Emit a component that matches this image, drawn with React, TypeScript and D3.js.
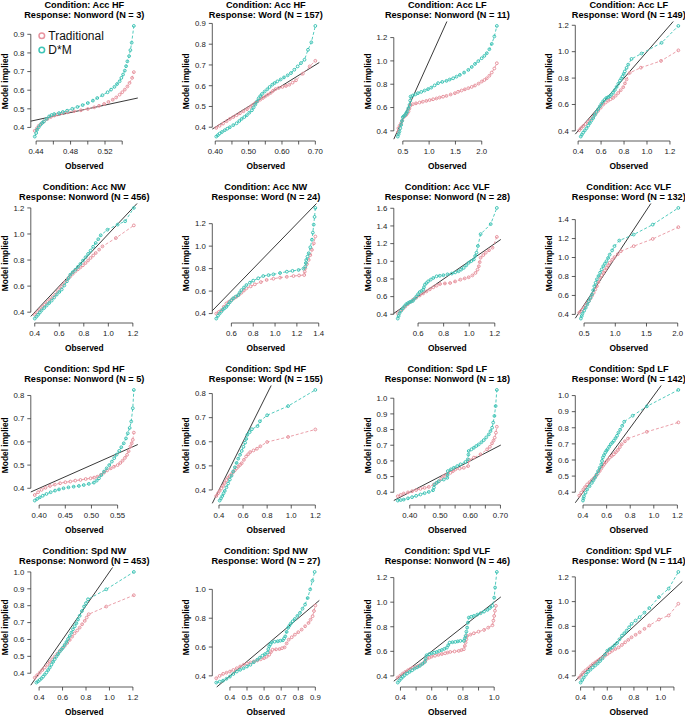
import React from "react";
import * as d3 from "d3";

type Pt = [number, number];

const conditions = ["Acc HF", "Acc HF", "Acc LF", "Acc LF", "Acc NW", "Acc NW", "Acc VLF", "Acc VLF", "Spd HF", "Spd HF", "Spd LF", "Spd LF", "Spd NW", "Spd NW", "Spd VLF", "Spd VLF"];
const responses = ["Nonword", "Word", "Nonword", "Word", "Nonword", "Word", "Nonword", "Word", "Nonword", "Word", "Nonword", "Word", "Nonword", "Word", "Nonword", "Word"];
const nCounts = [3, 157, 11, 149, 456, 24, 28, 132, 5, 155, 18, 142, 453, 27, 46, 114];
const seriesNames = ["Traditional", "D*M"];

// ---- Row 1 ----
const tradAccHfNonword: Pt[] = [[0.4384,0.382],[0.441,0.396],[0.443,0.409],[0.446,0.421],[0.449,0.432],[0.453,0.445],[0.457,0.456],[0.461,0.464],[0.4646,0.47],[0.470,0.476],[0.476,0.481],[0.484,0.487],[0.492,0.492],[0.500,0.499],[0.5075,0.508],[0.513,0.516],[0.519,0.526],[0.524,0.537],[0.529,0.549],[0.533,0.561],[0.537,0.576],[0.540,0.589],[0.543,0.603],[0.546,0.62],[0.5485,0.639],[0.5515,0.666],[0.5535,0.697]];
const dmAccHfNonword: Pt[] = [[0.4384,0.351],[0.440,0.370],[0.441,0.387],[0.443,0.401],[0.445,0.414],[0.447,0.424],[0.449,0.432],[0.452,0.446],[0.455,0.459],[0.458,0.467],[0.461,0.472],[0.4665,0.477],[0.471,0.483],[0.476,0.49],[0.482,0.50],[0.488,0.51],[0.494,0.52],[0.5,0.531],[0.506,0.544],[0.511,0.558],[0.517,0.573],[0.523,0.589],[0.527,0.603],[0.531,0.618],[0.534,0.633],[0.537,0.648],[0.539,0.666],[0.541,0.684],[0.543,0.705],[0.5445,0.729],[0.546,0.755],[0.548,0.783],[0.5495,0.815],[0.551,0.855],[0.5535,0.945]];

const tradAccHfWord: Pt[] = [[0.403,0.397],[0.413,0.407],[0.4234,0.4176],[0.434,0.429],[0.4437,0.44],[0.454,0.449],[0.464,0.458],[0.474,0.467],[0.4844,0.477],[0.495,0.487],[0.505,0.498],[0.512,0.507],[0.52,0.517],[0.527,0.525],[0.535,0.533],[0.543,0.541],[0.55,0.549],[0.558,0.557],[0.566,0.565],[0.573,0.575],[0.581,0.584],[0.59,0.589],[0.6014,0.594],[0.612,0.599],[0.622,0.605],[0.632,0.615],[0.642,0.626],[0.6625,0.658],[0.683,0.693],[0.70,0.72]];
const dmAccHfWord: Pt[] = [[0.403,0.355],[0.408,0.362],[0.413,0.3695],[0.42,0.377],[0.4285,0.3856],[0.436,0.393],[0.4437,0.4],[0.454,0.41],[0.464,0.419],[0.472,0.43],[0.479,0.44],[0.487,0.449],[0.4946,0.458],[0.502,0.47],[0.51,0.482],[0.515,0.495],[0.52,0.509],[0.525,0.524],[0.53,0.539],[0.535,0.55],[0.54,0.56],[0.548,0.572],[0.556,0.583],[0.563,0.594],[0.571,0.605],[0.578,0.613],[0.586,0.621],[0.596,0.63],[0.606,0.64],[0.617,0.65],[0.627,0.661],[0.637,0.677],[0.647,0.693],[0.657,0.709],[0.6675,0.725],[0.678,0.773],[0.688,0.809],[0.70,0.888]];

const tradAccLfNonword: Pt[] = [[0.41,0.39],[0.417,0.423],[0.44,0.445],[0.468,0.466],[0.49,0.49],[0.513,0.517],[0.54,0.528],[0.564,0.537],[0.585,0.55],[0.608,0.566],[0.625,0.59],[0.64,0.614],[0.69,0.629],[0.75,0.636],[0.819,0.643],[0.88,0.65],[0.947,0.657],[1.01,0.664],[1.075,0.671],[1.14,0.678],[1.2,0.686],[1.265,0.693],[1.33,0.7],[1.41,0.712],[1.49,0.723],[1.55,0.735],[1.617,0.746],[1.68,0.756],[1.745,0.766],[1.81,0.777],[1.872,0.789],[1.94,0.805],[2.0,0.823],[2.05,0.836],[2.096,0.851],[2.145,0.873],[2.19,0.9],[2.24,0.935],[2.287,0.98]];
const dmAccLfNonword: Pt[] = [[0.404,0.351],[0.42,0.372],[0.436,0.394],[0.452,0.422],[0.468,0.451],[0.484,0.484],[0.5,0.517],[0.52,0.527],[0.545,0.537],[0.565,0.552],[0.583,0.566],[0.605,0.594],[0.628,0.623],[0.64,0.66],[0.647,0.694],[0.69,0.703],[0.74,0.713],[0.787,0.723],[0.85,0.734],[0.915,0.746],[0.98,0.758],[1.04,0.771],[1.105,0.79],[1.17,0.809],[1.25,0.82],[1.33,0.829],[1.39,0.84],[1.457,0.851],[1.52,0.865],[1.585,0.88],[1.665,0.9],[1.745,0.923],[1.81,0.948],[1.872,0.974],[1.935,0.998],[2.0,1.023],[2.05,1.043],[2.096,1.066],[2.145,1.1],[2.19,1.146],[2.24,1.21],[2.287,1.3]];

const tradAccLfWord: Pt[] = [[0.41,0.405],[0.425,0.42],[0.444,0.436],[0.465,0.452],[0.487,0.469],[0.51,0.488],[0.531,0.508],[0.553,0.53],[0.575,0.553],[0.597,0.576],[0.618,0.599],[0.64,0.615],[0.662,0.629],[0.683,0.64],[0.705,0.65],[0.727,0.667],[0.749,0.687],[0.771,0.708],[0.793,0.731],[0.808,0.76],[0.822,0.79],[0.85,0.84],[0.947,0.879],[1.122,0.93],[1.273,1.01]];
const dmAccLfWord: Pt[] = [[0.423,0.357],[0.433,0.372],[0.444,0.387],[0.458,0.403],[0.473,0.42],[0.488,0.44],[0.502,0.459],[0.516,0.478],[0.531,0.497],[0.545,0.52],[0.56,0.543],[0.575,0.565],[0.589,0.586],[0.603,0.605],[0.618,0.624],[0.633,0.638],[0.647,0.65],[0.662,0.656],[0.676,0.662],[0.69,0.675],[0.705,0.69],[0.72,0.71],[0.735,0.733],[0.75,0.757],[0.764,0.78],[0.776,0.797],[0.787,0.813],[0.797,0.832],[0.807,0.851],[0.822,0.877],[0.836,0.902],[0.865,0.945],[0.953,0.986],[1.127,1.067],[1.273,1.195]];

// ---- Row 2 ----
const tradAccNwNonword: Pt[] = [[0.4,0.381],[0.42,0.4],[0.441,0.42],[0.462,0.44],[0.483,0.459],[0.503,0.478],[0.524,0.497],[0.545,0.516],[0.566,0.535],[0.586,0.56],[0.607,0.586],[0.628,0.609],[0.648,0.632],[0.669,0.654],[0.69,0.675],[0.71,0.694],[0.731,0.713],[0.752,0.729],[0.772,0.744],[0.793,0.76],[0.814,0.777],[0.835,0.797],[0.855,0.816],[0.876,0.835],[0.897,0.854],[0.925,0.88],[0.952,0.905],[1.062,0.969],[1.208,1.066]];
const dmAccNwNonword: Pt[] = [[0.4,0.351],[0.414,0.366],[0.4276,0.381],[0.441,0.397],[0.455,0.413],[0.476,0.432],[0.4966,0.451],[0.517,0.47],[0.538,0.489],[0.558,0.512],[0.579,0.535],[0.6,0.555],[0.62,0.574],[0.641,0.605],[0.662,0.637],[0.676,0.662],[0.69,0.688],[0.71,0.707],[0.731,0.726],[0.752,0.748],[0.772,0.77],[0.793,0.796],[0.814,0.821],[0.835,0.847],[0.855,0.872],[0.876,0.902],[0.897,0.931],[0.918,0.96],[0.938,0.99],[0.993,1.033],[1.076,1.072],[1.137,1.098],[1.208,1.2]];

const tradAccNwWord: Pt[] = [[0.4615,0.4],[0.485,0.415],[0.508,0.43],[0.53,0.46],[0.554,0.49],[0.577,0.505],[0.6,0.52],[0.623,0.535],[0.646,0.549],[0.669,0.567],[0.692,0.585],[0.715,0.605],[0.738,0.624],[0.777,0.642],[0.815,0.66],[0.87,0.68],[0.923,0.699],[0.985,0.71],[1.046,0.72],[1.108,0.727],[1.169,0.734],[1.22,0.739],[1.267,0.743],[1.272,0.773],[1.277,0.803],[1.292,0.84],[1.308,0.877],[1.323,0.92],[1.338,0.967],[1.355,1.025],[1.369,1.086]];
const dmAccNwWord: Pt[] = [[0.4615,0.3555],[0.477,0.38],[0.492,0.4],[0.508,0.418],[0.523,0.436],[0.538,0.448],[0.554,0.46],[0.569,0.48],[0.585,0.5],[0.6,0.518],[0.615,0.535],[0.638,0.55],[0.662,0.564],[0.677,0.587],[0.692,0.609],[0.715,0.632],[0.738,0.654],[0.77,0.675],[0.8,0.693],[0.846,0.714],[0.892,0.734],[0.94,0.742],[0.985,0.749],[1.046,0.761],[1.108,0.773],[1.16,0.78],[1.215,0.788],[1.26,0.8],[1.277,0.818],[1.282,0.85],[1.286,0.877],[1.297,0.907],[1.308,0.937],[1.323,0.99],[1.338,1.057],[1.346,1.12],[1.354,1.191],[1.362,1.26],[1.369,1.34]];

const tradAccVlfNonword: Pt[] = [[0.4414,0.411],[0.461,0.436],[0.481,0.461],[0.5,0.487],[0.52,0.514],[0.54,0.539],[0.56,0.564],[0.587,0.589],[0.613,0.613],[0.64,0.636],[0.666,0.659],[0.692,0.682],[0.719,0.705],[0.745,0.724],[0.772,0.743],[0.81,0.749],[0.851,0.754],[0.89,0.772],[0.931,0.792],[0.965,0.806],[0.996,0.819],[1.025,0.84],[1.049,0.868],[1.065,0.905],[1.075,0.944],[1.082,0.99],[1.089,1.04],[1.11,1.07],[1.129,1.097],[1.155,1.125],[1.182,1.154],[1.216,1.276]];
const dmAccVlfNonword: Pt[] = [[0.4414,0.3514],[0.448,0.38],[0.4546,0.411],[0.468,0.44],[0.481,0.469],[0.494,0.492],[0.5075,0.514],[0.521,0.526],[0.534,0.537],[0.547,0.545],[0.56,0.552],[0.573,0.577],[0.587,0.602],[0.6,0.627],[0.613,0.651],[0.627,0.664],[0.64,0.678],[0.646,0.705],[0.653,0.735],[0.666,0.754],[0.679,0.773],[0.699,0.792],[0.719,0.811],[0.745,0.83],[0.77,0.836],[0.798,0.842],[0.83,0.852],[0.864,0.861],[0.89,0.874],[0.917,0.887],[0.937,0.906],[0.957,0.925],[0.977,0.954],[0.996,0.983],[1.016,1.002],[1.036,1.021],[1.047,1.06],[1.057,1.097],[1.068,1.173],[1.089,1.307],[1.168,1.421],[1.216,1.604]];

const tradAccVlfWord: Pt[] = [[0.423,0.418],[0.45,0.435],[0.475,0.452],[0.5,0.47],[0.525,0.493],[0.551,0.517],[0.577,0.54],[0.603,0.569],[0.628,0.598],[0.654,0.628],[0.68,0.663],[0.705,0.698],[0.73,0.742],[0.756,0.786],[0.782,0.813],[0.808,0.839],[0.834,0.865],[0.859,0.891],[0.885,0.918],[0.91,0.944],[0.95,0.975],[0.987,1.004],[1.04,1.035],[1.09,1.067],[1.295,1.12],[1.6,1.196],[2.01,1.32]];
const dmAccVlfWord: Pt[] = [[0.449,0.356],[0.462,0.382],[0.474,0.407],[0.5,0.438],[0.526,0.47],[0.552,0.505],[0.577,0.54],[0.603,0.575],[0.628,0.611],[0.646,0.655],[0.664,0.698],[0.685,0.734],[0.705,0.77],[0.731,0.805],[0.756,0.84],[0.782,0.875],[0.808,0.909],[0.833,0.935],[0.859,0.961],[0.885,0.995],[0.91,1.03],[0.95,1.075],[0.987,1.12],[1.064,1.179],[1.295,1.242],[1.6,1.347],[2.01,1.523]];

// ---- Row 3 ----
const tradSpdHfNonword: Pt[] = [[0.3916,0.371],[0.398,0.383],[0.4045,0.393],[0.412,0.402],[0.4207,0.41],[0.43,0.416],[0.44,0.4216],[0.45,0.426],[0.4595,0.429],[0.469,0.433],[0.479,0.436],[0.489,0.44],[0.4983,0.443],[0.505,0.446],[0.5112,0.45],[0.518,0.458],[0.524,0.4676],[0.53,0.477],[0.537,0.486],[0.543,0.493],[0.55,0.5],[0.555,0.509],[0.5595,0.519],[0.564,0.531],[0.568,0.544],[0.571,0.56],[0.5746,0.58],[0.577,0.594],[0.579,0.609],[0.581,0.64]];
const dmSpdHfNonword: Pt[] = [[0.3916,0.347],[0.396,0.354],[0.4013,0.361],[0.407,0.368],[0.414,0.3755],[0.422,0.383],[0.4304,0.39],[0.438,0.395],[0.4466,0.4],[0.456,0.404],[0.466,0.407],[0.476,0.41],[0.4853,0.414],[0.495,0.419],[0.5047,0.4245],[0.51,0.433],[0.5144,0.443],[0.519,0.457],[0.524,0.472],[0.529,0.486],[0.534,0.5],[0.539,0.515],[0.5435,0.53],[0.548,0.545],[0.553,0.561],[0.557,0.577],[0.5617,0.594],[0.566,0.615],[0.5694,0.637],[0.573,0.66],[0.576,0.688],[0.579,0.745],[0.581,0.824]];

const tradSpdHfWord: Pt[] = [[0.3775,0.375],[0.392,0.386],[0.4056,0.396],[0.42,0.407],[0.434,0.417],[0.448,0.429],[0.462,0.441],[0.476,0.45],[0.49,0.458],[0.504,0.466],[0.518,0.474],[0.532,0.482],[0.546,0.49],[0.56,0.497],[0.575,0.504],[0.589,0.511],[0.607,0.525],[0.625,0.539],[0.642,0.548],[0.659,0.557],[0.687,0.564],[0.715,0.571],[0.743,0.581],[0.8,0.599],[0.974,0.62],[1.2,0.651]];
const dmSpdHfWord: Pt[] = [[0.4056,0.356],[0.417,0.365],[0.428,0.375],[0.438,0.386],[0.448,0.396],[0.462,0.411],[0.476,0.427],[0.49,0.443],[0.504,0.459],[0.518,0.477],[0.532,0.494],[0.546,0.512],[0.56,0.53],[0.575,0.546],[0.589,0.562],[0.603,0.579],[0.617,0.596],[0.627,0.612],[0.636,0.629],[0.655,0.64],[0.673,0.652],[0.72,0.665],[0.74,0.685],[0.8,0.71],[0.974,0.748],[1.2,0.815]];

const tradSpdLfNonword: Pt[] = [[0.3603,0.3744],[0.37,0.383],[0.38,0.392],[0.394,0.399],[0.4077,0.4064],[0.421,0.414],[0.4353,0.4214],[0.449,0.428],[0.463,0.434],[0.4794,0.449],[0.488,0.459],[0.496,0.47],[0.504,0.486],[0.5125,0.5025],[0.523,0.514],[0.5346,0.524],[0.543,0.535],[0.551,0.546],[0.565,0.551],[0.5787,0.556],[0.593,0.567],[0.5964,0.606],[0.612,0.621],[0.634,0.642],[0.656,0.674],[0.665,0.69],[0.672,0.712],[0.677,0.73],[0.681,0.748],[0.685,0.78],[0.688,0.818]];
const dmSpdLfNonword: Pt[] = [[0.3603,0.3468],[0.37,0.35],[0.38,0.353],[0.394,0.361],[0.4077,0.3685],[0.421,0.377],[0.4353,0.3856],[0.449,0.394],[0.463,0.402],[0.477,0.413],[0.48,0.43],[0.482,0.449],[0.489,0.46],[0.496,0.47],[0.5125,0.481],[0.524,0.492],[0.525,0.51],[0.526,0.535],[0.536,0.546],[0.5456,0.556],[0.557,0.567],[0.5677,0.578],[0.584,0.593],[0.592,0.61],[0.594,0.64],[0.595,0.663],[0.604,0.674],[0.612,0.684],[0.62,0.695],[0.628,0.705],[0.637,0.719],[0.645,0.733],[0.653,0.75],[0.6614,0.769],[0.667,0.79],[0.6724,0.812],[0.676,0.845],[0.68,0.887],[0.684,0.95],[0.688,1.053]];

const tradSpdLfWord: Pt[] = [[0.368,0.379],[0.385,0.398],[0.4027,0.4167],[0.418,0.432],[0.4347,0.448],[0.455,0.462],[0.4747,0.475],[0.492,0.487],[0.509,0.5],[0.525,0.515],[0.541,0.531],[0.555,0.547],[0.568,0.5625],[0.581,0.575],[0.595,0.5875],[0.611,0.601],[0.627,0.615],[0.644,0.625],[0.661,0.635],[0.679,0.649],[0.696,0.6625],[0.712,0.68],[0.728,0.698],[0.755,0.716],[0.781,0.733],[0.941,0.775],[1.208,0.8333]];
const dmSpdLfWord: Pt[] = [[0.3995,0.348],[0.404,0.362],[0.408,0.375],[0.421,0.396],[0.4347,0.4167],[0.455,0.437],[0.4747,0.458],[0.488,0.474],[0.5013,0.49],[0.515,0.51],[0.528,0.531],[0.541,0.552],[0.5547,0.573],[0.561,0.594],[0.568,0.615],[0.578,0.63],[0.589,0.646],[0.598,0.657],[0.608,0.667],[0.621,0.682],[0.635,0.698],[0.648,0.708],[0.661,0.719],[0.675,0.735],[0.688,0.75],[0.7,0.77],[0.715,0.788],[0.732,0.812],[0.749,0.8375],[0.821,0.875],[0.941,0.933],[1.208,1.035]];

// ---- Row 4 ----
const tradSpdNwNonword: Pt[] = [[0.363,0.374],[0.384,0.389],[0.4057,0.4036],[0.427,0.419],[0.448,0.4336],[0.47,0.45],[0.491,0.467],[0.512,0.483],[0.533,0.4987],[0.555,0.515],[0.576,0.532],[0.597,0.547],[0.618,0.5617],[0.64,0.579],[0.661,0.597],[0.682,0.617],[0.703,0.637],[0.725,0.653],[0.746,0.67],[0.767,0.69],[0.789,0.71],[0.806,0.73],[0.823,0.7494],[0.973,0.795],[1.208,0.862]];
const dmSpdNwNonword: Pt[] = [[0.377,0.3447],[0.391,0.352],[0.4057,0.3605],[0.42,0.37],[0.434,0.38],[0.448,0.392],[0.4624,0.404],[0.477,0.419],[0.491,0.4336],[0.505,0.45],[0.519,0.467],[0.533,0.483],[0.5475,0.4987],[0.562,0.513],[0.576,0.528],[0.59,0.54],[0.604,0.552],[0.618,0.568],[0.633,0.585],[0.647,0.603],[0.661,0.621],[0.675,0.64],[0.689,0.66],[0.704,0.678],[0.718,0.696],[0.732,0.718],[0.746,0.74],[0.765,0.768],[0.783,0.795],[0.8,0.815],[0.817,0.838],[0.973,0.897],[1.208,1.0]];

const tradSpdNwWord: Pt[] = [[0.32,0.3837],[0.34,0.4],[0.36,0.414],[0.38,0.422],[0.4,0.43],[0.42,0.441],[0.44,0.453],[0.46,0.465],[0.48,0.477],[0.5,0.485],[0.52,0.493],[0.54,0.5],[0.56,0.507],[0.58,0.515],[0.6,0.5233],[0.615,0.533],[0.63,0.5465],[0.64,0.565],[0.65,0.5814],[0.67,0.584],[0.69,0.586],[0.705,0.592],[0.72,0.598],[0.732,0.625],[0.744,0.651],[0.762,0.668],[0.78,0.686],[0.8,0.703],[0.82,0.721],[0.84,0.744],[0.86,0.767],[0.872,0.79],[0.884,0.814],[0.892,0.85],[0.9,0.888]];
const dmSpdNwWord: Pt[] = [[0.32,0.3535],[0.34,0.36],[0.36,0.367],[0.38,0.38],[0.4,0.395],[0.42,0.413],[0.44,0.43],[0.46,0.442],[0.48,0.453],[0.5,0.465],[0.52,0.477],[0.54,0.495],[0.56,0.512],[0.575,0.526],[0.59,0.54],[0.605,0.551],[0.62,0.5628],[0.625,0.585],[0.63,0.605],[0.637,0.619],[0.644,0.633],[0.662,0.637],[0.68,0.64],[0.695,0.644],[0.71,0.647],[0.717,0.66],[0.724,0.674],[0.732,0.705],[0.74,0.733],[0.748,0.748],[0.756,0.763],[0.768,0.779],[0.78,0.795],[0.795,0.816],[0.81,0.837],[0.825,0.866],[0.84,0.895],[0.855,0.94],[0.87,1.0],[0.883,1.06],[0.896,1.121]];

const tradSpdVlfNonword: Pt[] = [[0.3827,0.3864],[0.399,0.403],[0.415,0.419],[0.431,0.433],[0.448,0.446],[0.464,0.457],[0.48,0.4678],[0.497,0.474],[0.513,0.481],[0.529,0.492],[0.545,0.503],[0.558,0.522],[0.571,0.5407],[0.585,0.549],[0.6,0.557],[0.621,0.564],[0.643,0.571],[0.665,0.578],[0.686,0.584],[0.702,0.59],[0.719,0.595],[0.746,0.599],[0.773,0.6034],[0.79,0.61],[0.806,0.617],[0.812,0.644],[0.817,0.671],[0.822,0.698],[0.827,0.7254],[0.848,0.736],[0.87,0.747],[0.9,0.76],[0.935,0.774],[0.962,0.793],[0.989,0.812],[0.995,0.85],[1.0,0.888],[1.005,0.93],[1.011,0.97]];
const dmSpdVlfNonword: Pt[] = [[0.3827,0.3458],[0.393,0.362],[0.404,0.378],[0.415,0.392],[0.426,0.405],[0.442,0.419],[0.4585,0.4325],[0.475,0.446],[0.491,0.46],[0.507,0.47],[0.5235,0.481],[0.54,0.497],[0.556,0.5136],[0.561,0.54],[0.567,0.5678],[0.583,0.576],[0.6,0.584],[0.616,0.589],[0.632,0.5946],[0.648,0.603],[0.665,0.611],[0.681,0.62],[0.697,0.63],[0.706,0.65],[0.715,0.671],[0.733,0.674],[0.751,0.6766],[0.767,0.681],[0.784,0.685],[0.806,0.685],[0.812,0.705],[0.817,0.7254],[0.822,0.76],[0.827,0.7932],[0.832,0.834],[0.8375,0.8746],[0.853,0.881],[0.87,0.888],[0.892,0.899],[0.913,0.91],[0.935,0.923],[0.957,0.937],[0.973,0.953],[0.989,0.97],[1.0,1.037],[1.006,1.119],[1.017,1.246]];

const tradSpdVlfWord: Pt[] = [[0.39,0.3864],[0.405,0.407],[0.4194,0.427],[0.437,0.444],[0.4556,0.46],[0.474,0.478],[0.4919,0.495],[0.51,0.509],[0.5282,0.522],[0.546,0.536],[0.5645,0.549],[0.583,0.563],[0.6008,0.576],[0.619,0.59],[0.6371,0.6034],[0.661,0.617],[0.6854,0.63],[0.71,0.65],[0.7338,0.671],[0.758,0.691],[0.7822,0.7118],[0.8125,0.732],[0.8427,0.7525],[0.879,0.78],[0.9153,0.807],[0.9878,0.8556],[1.0604,0.888],[1.133,0.983]];
const dmSpdVlfWord: Pt[] = [[0.4,0.3458],[0.412,0.366],[0.4242,0.3864],[0.44,0.41],[0.4556,0.4325],[0.474,0.45],[0.4919,0.468],[0.51,0.484],[0.5282,0.5],[0.546,0.52],[0.5645,0.541],[0.583,0.572],[0.6008,0.6034],[0.619,0.617],[0.6371,0.63],[0.655,0.648],[0.6733,0.6658],[0.691,0.695],[0.7096,0.725],[0.728,0.745],[0.7459,0.766],[0.764,0.793],[0.7822,0.82],[0.8125,0.847],[0.8427,0.8746],[0.879,0.911],[0.9153,0.948],[0.9878,1.037],[1.0604,1.105],[1.133,1.24]];

const tradSeries: Pt[][] = [tradAccHfNonword, tradAccHfWord, tradAccLfNonword, tradAccLfWord, tradAccNwNonword, tradAccNwWord, tradAccVlfNonword, tradAccVlfWord, tradSpdHfNonword, tradSpdHfWord, tradSpdLfNonword, tradSpdLfWord, tradSpdNwNonword, tradSpdNwWord, tradSpdVlfNonword, tradSpdVlfWord];
const dmSeries: Pt[][] = [dmAccHfNonword, dmAccHfWord, dmAccLfNonword, dmAccLfWord, dmAccNwNonword, dmAccNwWord, dmAccVlfNonword, dmAccVlfWord, dmSpdHfNonword, dmSpdHfWord, dmSpdLfNonword, dmSpdLfWord, dmSpdNwNonword, dmSpdNwWord, dmSpdVlfNonword, dmSpdVlfWord];

const xTickValues: number[][] = [
  [0.44, 0.46, 0.48, 0.50, 0.52, 0.54],
  [0.40, 0.45, 0.50, 0.55, 0.60, 0.65, 0.70],
  [0.5, 1.0, 1.5, 2.0],
  [0.4, 0.6, 0.8, 1.0, 1.2],
  [0.4, 0.6, 0.8, 1.0, 1.2],
  [0.6, 0.8, 1.0, 1.2, 1.4],
  [0.6, 0.8, 1.0, 1.2],
  [0.5, 1.0, 1.5, 2.0],
  [0.40, 0.45, 0.50, 0.55],
  [0.4, 0.6, 0.8, 1.0, 1.2],
  [0.40, 0.45, 0.50, 0.55, 0.60, 0.65, 0.70],
  [0.4, 0.6, 0.8, 1.0, 1.2],
  [0.4, 0.6, 0.8, 1.0, 1.2],
  [0.4, 0.5, 0.6, 0.7, 0.8, 0.9],
  [0.4, 0.5, 0.6, 0.7, 0.8, 0.9, 1.0],
  [0.4, 0.5, 0.6, 0.7, 0.8, 0.9, 1.0, 1.1],
];
const xTickText: string[][] = [
  ["0.44", "", "0.48", "", "0.52", ""],
  ["0.40", "", "0.50", "", "0.60", "", "0.70"],
  ["0.5", "1.0", "1.5", "2.0"],
  ["0.4", "0.6", "0.8", "1.0", "1.2"],
  ["0.4", "0.6", "0.8", "1.0", "1.2"],
  ["0.6", "0.8", "1.0", "1.2", "1.4"],
  ["0.6", "0.8", "1.0", "1.2"],
  ["0.5", "1.0", "1.5", "2.0"],
  ["0.40", "0.45", "0.50", "0.55"],
  ["0.4", "0.6", "0.8", "1.0", "1.2"],
  ["0.40", "", "0.50", "", "0.60", "", "0.70"],
  ["0.4", "0.6", "0.8", "1.0", "1.2"],
  ["0.4", "0.6", "0.8", "1.0", "1.2"],
  ["0.4", "0.5", "0.6", "0.7", "0.8", "0.9"],
  ["0.4", "", "0.6", "", "0.8", "", "1.0"],
  ["0.4", "", "0.6", "", "0.8", "", "1.0", ""],
];
const yTickValues: number[][] = [
  [0.4, 0.5, 0.6, 0.7, 0.8, 0.9],
  [0.4, 0.5, 0.6, 0.7, 0.8, 0.9],
  [0.4, 0.6, 0.8, 1.0, 1.2],
  [0.4, 0.6, 0.8, 1.0, 1.2],
  [0.4, 0.6, 0.8, 1.0, 1.2],
  [0.4, 0.6, 0.8, 1.0, 1.2],
  [0.4, 0.6, 0.8, 1.0, 1.2, 1.4, 1.6],
  [0.4, 0.6, 0.8, 1.0, 1.2, 1.4],
  [0.4, 0.5, 0.6, 0.7, 0.8],
  [0.4, 0.5, 0.6, 0.7, 0.8],
  [0.4, 0.5, 0.6, 0.7, 0.8, 0.9, 1.0],
  [0.4, 0.5, 0.6, 0.7, 0.8, 0.9, 1.0],
  [0.4, 0.5, 0.6, 0.7, 0.8, 0.9, 1.0],
  [0.4, 0.6, 0.8, 1.0],
  [0.4, 0.6, 0.8, 1.0, 1.2],
  [0.4, 0.6, 0.8, 1.0, 1.2],
];

const COLORS = ["#E8949F", "#3EC4B6"];
const FONT = "'Liberation Sans', Arial, Helvetica, sans-serif";
const WIDTH = 685;
const HEIGHT = 716;

function extended(vals: number[]): [number, number] {
  const [lo, hi] = d3.extent(vals) as [number, number];
  const pad = (hi - lo) * 0.04;
  return [lo - pad, hi + pad];
}

function Panel({ idx }: { idx: number }) {
  const col = idx % 4;
  const row = Math.floor(idx / 4);
  const left = 30.8 + 181.5 * col;
  const top = 21.5 + 182 * row;
  const W = 107;
  const H = 119.5;
  const bottom = top + H;
  const series = [tradSeries[idx], dmSeries[idx]];
  const all = series.flat();
  const xd = extended(all.map((p) => p[0]));
  const yd = extended(all.map((p) => p[1]));
  const x = d3.scaleLinear().domain(xd).range([left, left + W]);
  const y = d3.scaleLinear().domain(yd).range([bottom, top]);
  const lineGen = d3.line<Pt>().x((p) => x(p[0])).y((p) => y(p[1]));
  const a = Math.max(xd[0], yd[0]);
  const b = Math.min(xd[1], yd[1]);
  const xt = xTickValues[idx];
  const yt = yTickValues[idx];
  const cx = left + W / 2;
  const fmt = d3.format(".1f");
  return (
    <g>
      <text x={cx} y={top - 13.4} textAnchor="middle" fontSize={9.2} fontWeight="bold" fontFamily={FONT}>
        {`Condition: ${conditions[idx]}`}
      </text>
      <text x={cx} y={top - 3.6} textAnchor="middle" fontSize={9.2} fontWeight="bold" fontFamily={FONT}>
        {`Response: ${responses[idx]} (N = ${nCounts[idx]})`}
      </text>
      {/* x axis */}
      <line x1={x(xt[0])} x2={x(xt[xt.length - 1])} y1={bottom} y2={bottom} stroke="#333" strokeWidth={0.8} />
      {xt.map((t, i) => (
        <g key={`xt${i}`}>
          <line x1={x(t)} x2={x(t)} y1={bottom} y2={bottom + 3.5} stroke="#333" strokeWidth={0.8} />
          {xTickText[idx][i] && (
            <text x={x(t)} y={bottom + 13.3} textAnchor="middle" fontSize={7.8} fontFamily={FONT} fill="#222">
              {xTickText[idx][i]}
            </text>
          )}
        </g>
      ))}
      {/* y axis */}
      <line x1={left} x2={left} y1={y(yt[0])} y2={y(yt[yt.length - 1])} stroke="#333" strokeWidth={0.8} />
      {yt.map((t, i) => (
        <g key={`yt${i}`}>
          <line x1={left - 3.5} x2={left} y1={y(t)} y2={y(t)} stroke="#333" strokeWidth={0.8} />
          <text x={left - 6.5} y={y(t) + 2.8} textAnchor="end" fontSize={7.8} fontFamily={FONT} fill="#222">
            {fmt(t)}
          </text>
        </g>
      ))}
      <text x={cx} y={bottom + 28} textAnchor="middle" fontSize={8.4} fontWeight="bold" fontFamily={FONT}>
        Observed
      </text>
      <text
        transform={`translate(${left - 23},${top + H / 2}) rotate(-90)`}
        textAnchor="middle"
        fontSize={8.4}
        fontWeight="bold"
        fontFamily={FONT}
      >
        Model implied
      </text>
      {/* identity line */}
      <line x1={x(a)} y1={y(a)} x2={x(b)} y2={y(b)} stroke="#222" strokeWidth={0.9} />
      {series.map((s, si) => (
        <g key={`s${si}`}>
          <path d={lineGen(s) || ""} fill="none" stroke={COLORS[si]} strokeWidth={0.9} strokeDasharray="3 2" />
          {s.map((p, pi) => (
            <circle key={pi} cx={x(p[0])} cy={y(p[1])} r={1.4} fill="none" stroke={COLORS[si]} strokeWidth={1} />
          ))}
        </g>
      ))}
      {idx === 0 &&
        seriesNames.map((name, i) => (
          <g key={name}>
            <circle cx={left + 11} cy={top + 14.2 + i * 14.3} r={2.8} fill="none" stroke={COLORS[i]} strokeWidth={1.5} />
            <text x={left + 17.5} y={top + 18.4 + i * 14.3} fontSize={12} fontFamily={FONT} fill="#111">
              {name}
            </text>
          </g>
        ))}
    </g>
  );
}

export default function App() {
  return (
    <svg
      width={WIDTH}
      height={HEIGHT}
      viewBox={`0 0 ${WIDTH} ${HEIGHT}`}
      style={{ position: "absolute", left: 0, top: 0, background: "#fff" }}
    >
      <rect width={WIDTH} height={HEIGHT} fill="#fff" />
      {conditions.map((_, i) => (
        <Panel key={i} idx={i} />
      ))}
    </svg>
  );
}
